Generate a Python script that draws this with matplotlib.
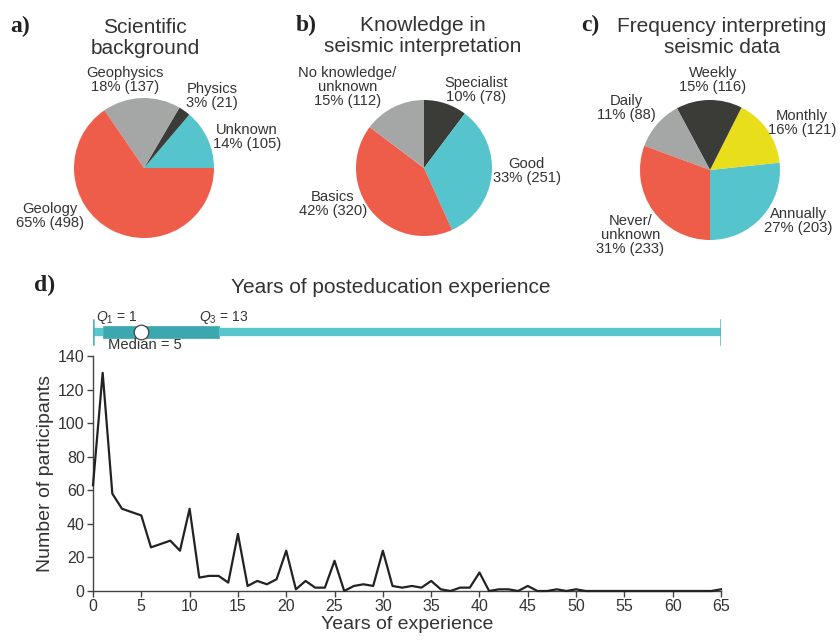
import matplotlib
matplotlib.use('Agg')
import matplotlib.pyplot as plt
import numpy as np

plt.rcParams['font.family'] = ['Liberation Sans', 'DejaVu Sans']
plt.rcParams['mathtext.fontset'] = 'custom'
plt.rcParams['mathtext.rm'] = 'Liberation Sans'
plt.rcParams['mathtext.it'] = 'Liberation Sans:italic'

TXT = '#333333'
RED = '#EE5C4A'
GREY = '#A5A7A6'
DARK = '#3B3B37'
CYAN = '#56C4CD'
YELLOW = '#E8DE1B'

# a) scientific background
bg_labels = ['Unknown', 'Physics', 'Geophysics', 'Geology']
bg_counts = [105, 21, 137, 498]
bg_pct = [14, 3, 18, 65]

# b) knowledge in seismic interpretation
kn_labels = ['Specialist', 'Good', 'Basics', 'No knowledge/\nunknown']
kn_counts = [78, 251, 320, 112]
kn_pct = [10, 33, 42, 15]

# c) frequency interpreting seismic data
fr_labels = ['Annually', 'Monthly', 'Weekly', 'Daily', 'Never/\nunknown']
fr_counts = [203, 121, 116, 88, 233]
fr_pct = [27, 16, 15, 11, 31]

# d) years of posteducation experience
years = list(range(0, 66))
participants = [63, 130, 58, 49, 47, 45, 26, 28, 30, 24,
                49, 8, 9, 9, 5, 34, 3, 6, 4, 7,
                24, 1, 6, 2, 2, 18, 0, 3, 4, 3,
                24, 3, 2, 3, 2, 6, 1, 0, 2, 2,
                11, 0, 1, 1, 0, 3, 0, 0, 1, 0,
                1, 0, 0, 0, 0, 0, 0, 0, 0, 0,
                0, 0, 0, 0, 0, 1]
box_stats = {'whislo': 0, 'q1': 1, 'med': 5, 'q3': 13, 'whishi': 65}

W, H = 840, 641
fig = plt.figure(figsize=(W / 100, H / 100), dpi=100)

LAB_FS = 10.6
TITLE_FS = 15


def px_axes(cx, cy, r):
    return fig.add_axes([(cx - r) / W, (H - cy - r) / H, 2 * r / W, 2 * r / H])


def pie_panel(cx, cy, r, counts, colors, start, ccw, labels, pct, pos):
    ax = px_axes(cx, cy, r)
    ax.pie(counts, colors=colors, startangle=start, counterclock=ccw,
           wedgeprops=dict(linewidth=0))
    ax.set_xlim(-1, 1)
    ax.set_ylim(-1, 1)
    for lab, p, c, (x, y) in zip(labels, pct, counts, pos):
        ax.text(x, y, '%s\n%d%% (%d)' % (lab, p, c), ha='center', va='center',
                fontsize=LAB_FS, color=TXT, linespacing=1.0, clip_on=False)
    return ax


pie_panel(144, 168, 70, bg_counts, [CYAN, DARK, GREY, RED], 0, True,
          bg_labels, bg_pct,
          [(1.47, 0.44), (0.97, 1.03), (-0.27, 1.26), (-1.34, -0.69)])
pie_panel(424, 168, 68, kn_counts, [DARK, CYAN, RED, GREY], 90, False,
          kn_labels, kn_pct,
          [(0.76, 1.15), (1.51, -0.04), (-1.34, -0.53), (-1.125, 1.19)])
pie_panel(710, 170, 70, fr_counts, [CYAN, YELLOW, DARK, GREY, RED], 270, True,
          fr_labels, fr_pct,
          [(1.26, -0.73), (1.31, 0.67), (0.04, 1.29), (-1.2, 0.89), (-1.14, -0.93)])

fig.text(145 / W, 1 - 38 / H, 'Scientific\nbackground', ha='center', va='center',
         fontsize=TITLE_FS, color=TXT, linespacing=1.1)
fig.text(423 / W, 1 - 36 / H, 'Knowledge in\nseismic interpretation', ha='center',
         va='center', fontsize=TITLE_FS, color=TXT, linespacing=1.1)
fig.text(722 / W, 1 - 37 / H, 'Frequency interpreting\nseismic data', ha='center',
         va='center', fontsize=TITLE_FS, color=TXT, linespacing=1.1)
fig.text(391 / W, 1 - 287 / H, 'Years of posteducation experience', ha='center',
         va='center', fontsize=TITLE_FS, color=TXT)

for letter, x, y in [('a)', 10, 26), ('b)', 296, 25), ('c)', 581, 25), ('d)', 34, 285)]:
    fig.text(x / W, 1 - y / H, letter, ha='left', va='center', fontsize=17,
             fontweight='bold', family='Liberation Serif', color='#222222')

# line chart
ax = fig.add_axes([93 / W, (H - 591) / H, 628 / W, 235 / H])
ax.plot(years, participants, color='#222222', lw=1.6, clip_on=False, zorder=3)
ax.set_xlim(0, 65)
ax.set_ylim(0, 140)
ax.set_xticks(np.arange(0, 66, 5))
ax.set_yticks(np.arange(0, 141, 20))
for s in ['top', 'right']:
    ax.spines[s].set_visible(False)
for s in ['left', 'bottom']:
    ax.spines[s].set_color('#444444')
    ax.spines[s].set_linewidth(1)
ax.tick_params(length=4, width=1, color='#444444', labelsize=11.5, labelcolor=TXT, pad=2)
ax.set_xlabel('Years of experience', fontsize=14, color=TXT, labelpad=1)
ax.set_ylabel('Number of participants', fontsize=14, color=TXT, labelpad=3)

# box plot strip
bx = fig.add_axes([93 / W, (H - 352) / H, 628 / W, 40 / H])
bx.bxp([box_stats], positions=[1], orientation='horizontal', widths=0.28,
       showfliers=False, patch_artist=True, capwidths=0.62,
       boxprops=dict(facecolor='#3BA7AF', edgecolor='#3BA7AF', linewidth=0.5),
       whiskerprops=dict(color='#5BC5CE', linewidth=6, solid_capstyle='butt'),
       capprops=dict(color='#52B5BE', linewidth=1.8),
       medianprops=dict(linewidth=0))
bx.plot([box_stats['med']], [1], 'o', ms=10.5, mfc='white', mec='#444444',
        mew=0.9, zorder=5)
bx.set_xlim(0, 65)
bx.set_ylim(0.5, 1.5)
bx.axis('off')
bx.text(0.35, 1.37, r'$Q_1$ = 1', ha='left', va='center', fontsize=10,
        color=TXT, clip_on=False)
bx.text(11.0, 1.37, r'$Q_3$ = 13', ha='left', va='center', fontsize=10,
        color=TXT, clip_on=False)
bx.text(1.55, 0.68, 'Median = 5', ha='left', va='center', fontsize=10.6,
        color=TXT, clip_on=False)

fig.savefig('out.png', dpi=100)
